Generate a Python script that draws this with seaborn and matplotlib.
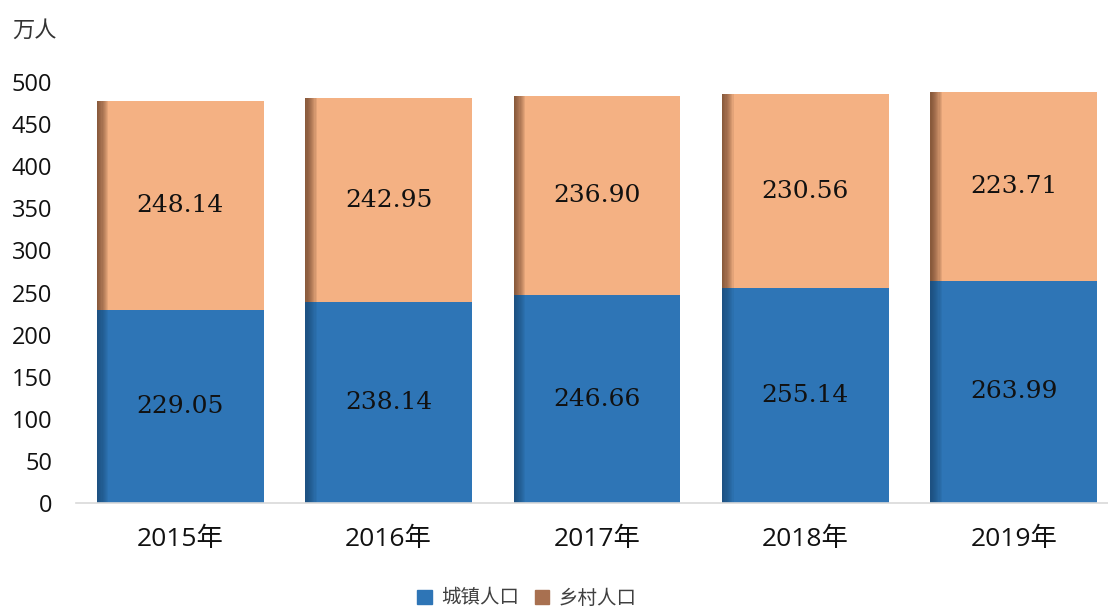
import numpy as np
import pandas as pd
import matplotlib
matplotlib.use("Agg")
import matplotlib.pyplot as plt
import seaborn as sns
from matplotlib.patches import Patch

sns.set_style("white")
plt.rcParams['font.family'] = ['Open Sans', 'Noto Sans CJK SC', 'DejaVu Sans']

years = ["2015年", "2016年", "2017年", "2018年", "2019年"]
urban = [229.05, 238.14, 246.66, 255.14, 263.99]
rural = [248.14, 242.95, 236.90, 230.56, 223.71]

df = pd.DataFrame({"year": years, "urban": urban, "rural": rural})
df["total"] = df["urban"] + df["rural"]

blue = "#2E75B6"
orange = "#F4B183"

fig = plt.figure(figsize=(11.08, 6.11), dpi=100)
ax = fig.add_axes([76 / 1108, 108 / 611, 1042 / 1108, 421 / 611])

sns.barplot(data=df, x="year", y="total", color=orange, width=0.8,
            saturation=1, ax=ax, linewidth=0)
sns.barplot(data=df, x="year", y="urban", color=blue, width=0.8,
            saturation=1, ax=ax, linewidth=0)

# soft darker shading along the left edge of each bar
steps = 10
for k in range(steps):
    w = 0.055 * (1 - k / steps)
    for i in range(len(years)):
        left = i - 0.4
        ax.bar(left, urban[i], width=w, align="edge", color="#173F66",
               alpha=0.09, linewidth=0)
        ax.bar(left, rural[i], bottom=urban[i], width=w, align="edge",
               color="#5E3820", alpha=0.11, linewidth=0)

for i in range(len(years)):
    ax.text(i, urban[i] / 2, f"{urban[i]:.2f}", ha="center", va="center",
            fontsize=18, family="DejaVu Serif", color="#111111")
    ax.text(i, urban[i] + rural[i] / 2, f"{rural[i]:.2f}", ha="center", va="center",
            fontsize=18, family="DejaVu Serif", color="#111111")

ax.set_xlim(-0.5, 4.5)
ax.set_ylim(0, 500)
ax.set_yticks(range(0, 501, 50))
ax.tick_params(axis="y", labelsize=17, pad=17, length=0, colors="#111111")
ax.tick_params(axis="x", labelsize=19, pad=17, length=0, colors="#111111")
ax.set_xlabel("")
ax.set_ylabel("")
for s in ["top", "right", "left"]:
    ax.spines[s].set_visible(False)
ax.spines["bottom"].set_color("#D9D9D9")
ax.spines["bottom"].set_linewidth(1.2)

fig.text(12 / 1108, 1 - 30 / 611, "万人", fontsize=16, va="center", ha="left",
         family=["Noto Sans CJK SC", "DejaVu Sans"], color="#333333")

handles = [Patch(color=blue, label="城镇人口"), Patch(color="#A87050", label="乡村人口")]
leg = fig.legend(handles=handles, loc="center", bbox_to_anchor=(527 / 1108, 1 - 598 / 611),
                 ncol=2, frameon=False, handlelength=0.75, handleheight=0.75,
                 handletextpad=0.5, columnspacing=0.8,
                 prop={"family": ["Noto Sans CJK SC"], "size": 14})
for t in leg.get_texts():
    t.set_color("#404040")

fig.savefig("out.png", dpi=100)
